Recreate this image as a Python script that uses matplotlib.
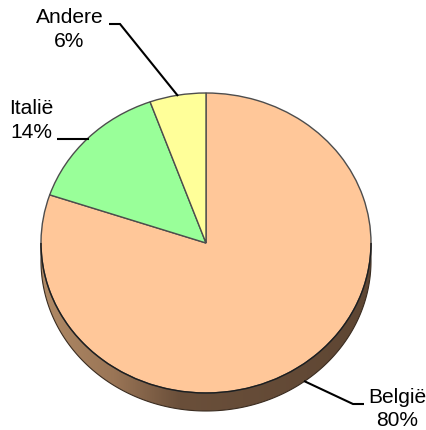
import numpy as np
import matplotlib
matplotlib.use("Agg")
import matplotlib.pyplot as plt
from matplotlib.colors import LinearSegmentedColormap
from matplotlib.patches import Arc, PathPatch
from matplotlib.path import Path

categories = ["België", "Italië", "Andere"]
values = [80.2, 14.3, 5.5]
shown = ["80%", "14%", "6%"]
colors = ["#FFC799", "#99FF99", "#FFFF99"]

W, H = 427, 430
CX, CY, RX, RY, DEPTH = 206.0, 243.0, 165.0, 150.0, 18.0

def px(x, y):
    return (x - CX) / RX, (CY - y) / RY

plt.rcParams["font.family"] = ["Liberation Sans", "DejaVu Sans"]
fig = plt.figure(figsize=(W / 100, H / 100), dpi=100)
ax = fig.add_axes([0, 0, 1, 1])

# Side of the disc: a horizontal light-to-dark shading clipped to its outline
d = DEPTH / RY
t = np.linspace(np.pi, 2 * np.pi, 240)
outline = np.column_stack([np.cos(t), np.sin(t) - d])
outline = np.vstack([[-1, 0], outline, [1, 0], [-1, 0]])
side_path = Path(outline, closed=True)
side_cmap = LinearSegmentedColormap.from_list(
    "side", [(0, "#B08A66"), (0.22, "#9A7556"), (0.42, "#6A4F3A"), (1, "#5E4633")])
img = ax.imshow(np.linspace(0, 1, 256).reshape(1, -1), cmap=side_cmap,
                extent=(-1, 1, -1 - d, 0), zorder=1, interpolation="bilinear")
side_patch = PathPatch(side_path, facecolor="none", edgecolor="#3A2C20", linewidth=0.8, zorder=1.5)
ax.add_patch(side_patch)
img.set_clip_path(side_patch)

# Top
wedges, _ = ax.pie(values, colors=colors, startangle=90, counterclock=False, radius=1,
                   wedgeprops=dict(edgecolor="#4D4D4D", linewidth=1))
for w in wedges:
    w.set_zorder(3)
ax.add_patch(Arc((0, 0), 2, 2, theta1=180, theta2=360, color="#1E1E1E", lw=1, zorder=3.5))

ax.set_aspect("auto")
ax.set_xlim(-CX / RX, (W - CX) / RX)
ax.set_ylim((CY - H) / RY, CY / RY)
ax.axis("off")

leaders = [
    [(304, 381), (353, 404), (364, 404)],
    [(57, 139), (89, 139)],
    [(109, 24), (120, 24), (178, 96)],
]
label_pos = [(397.5, 403, 426), (31, 114, 138), (69.5, 23, 47)]

for pts, name, pct, (tx, y1, y2) in zip(leaders, categories, shown, label_pos):
    xy = [px(*p) for p in pts]
    ax.plot([p[0] for p in xy], [p[1] for p in xy], color="black", lw=1.5,
            solid_joinstyle="miter", solid_capstyle="butt", zorder=4)
    for s, y in ((name, y1), (pct, y2)):
        x0, y0 = px(tx, y)
        ax.text(x0, y0, s, ha="center", va="baseline", fontsize=15.1, color="black", zorder=5)

fig.savefig("out.png", dpi=100, facecolor="white")
